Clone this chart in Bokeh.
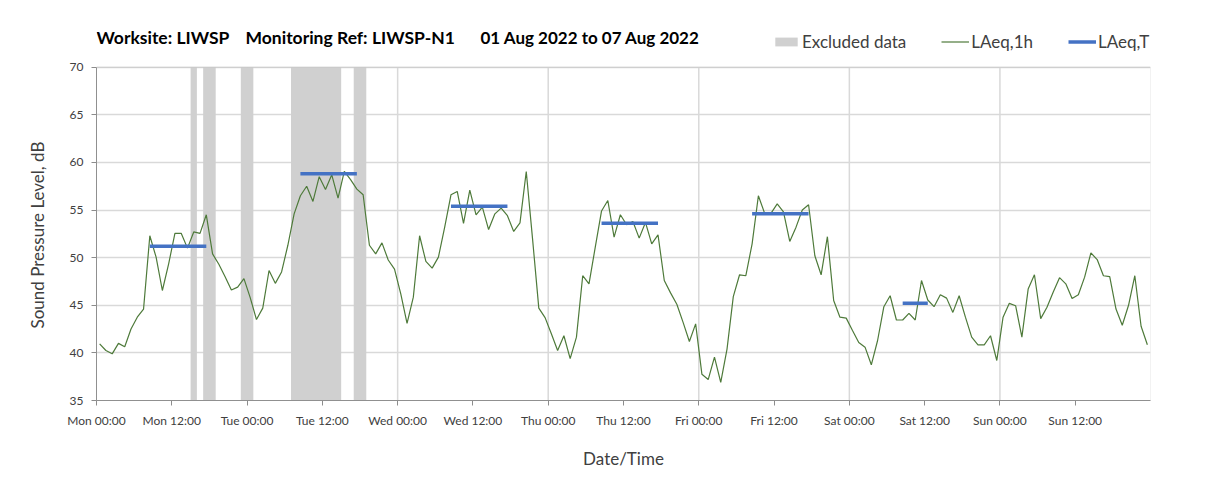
from bokeh.plotting import figure
from bokeh.models import (FixedTicker, Range1d, Legend, LegendItem, ColumnDataSource,
                          Label, BoxAnnotation, Title)
from bokeh.embed import file_html
from bokeh.resources import INLINE

# ---- data ----
hours = list(range(168))
laeq_1h = [
    40.95, 40.25, 39.9, 41.0, 40.65, 42.5, 43.75, 44.6, 52.3, 50.05, 46.55, 49.35,
    52.55, 52.55, 51.0, 52.7, 52.55, 54.5, 50.4, 49.3, 48.0, 46.6, 46.9, 47.8,
    45.8, 43.5, 44.7, 48.65, 47.3, 48.5, 51.3, 54.6, 56.5, 57.5, 55.9, 58.5,
    57.15, 58.7, 56.25, 59.05, 58.2, 57.2, 56.6, 51.3, 50.4, 51.55, 49.75, 48.8,
    46.2, 43.1, 45.85, 52.3, 49.6, 48.9, 50.05, 53.2, 56.6, 56.95, 53.6, 57.1,
    54.5, 55.3, 52.95, 54.6, 55.2, 54.4, 52.75, 53.65, 59.05, 52.0, 44.7, 43.7,
    42.0, 40.25, 41.8, 39.4, 41.65, 48.1, 47.25, 51.1, 54.9, 56.0, 52.15, 54.5,
    53.45, 53.8, 52.05, 53.7, 51.45, 52.4, 47.6, 46.3, 45.1, 43.2, 41.2, 43.05,
    37.75, 37.2, 39.55, 36.9, 40.4, 45.9, 48.2, 48.1, 51.45, 56.5, 54.65, 54.65,
    55.65, 54.8, 51.7, 53.2, 55.0, 55.55, 50.2, 48.2, 52.2, 45.5, 43.75, 43.65,
    42.35, 41.1, 40.6, 38.75, 41.3, 44.85, 46.0, 43.45, 43.45, 44.15, 43.45, 47.6,
    45.55, 44.85, 46.1, 45.75, 44.25, 46.0, 43.75, 41.65, 40.85, 40.85, 41.8, 39.2,
    43.75, 45.2, 44.95, 41.65, 46.7, 48.2, 43.6, 44.8, 46.4, 47.9, 47.25, 45.7,
    46.1, 47.95, 50.5, 49.8, 48.1, 48.0, 44.6, 42.9, 45.0, 48.1, 42.8, 40.85,
]
excl_start = [15, 17, 23, 31, 41]
excl_end = [16, 19, 25, 39, 43]
t_start = [8.5, 32.5, 56.5, 80.5, 104.5, 128.5]
t_end = [17.5, 41.5, 65.5, 89.5, 113.5, 132.5]
laeq_t = [51.2, 58.8, 55.4, 53.6, 54.6, 45.2]
tick_hours = [0, 12, 24, 36, 48, 60, 72, 84, 96, 108, 120, 132, 144, 156]
tick_labels = ["Mon 00:00", "Mon 12:00", "Tue 00:00", "Tue 12:00", "Wed 00:00",
               "Wed 12:00", "Thu 00:00", "Thu 12:00", "Fri 00:00", "Fri 12:00",
               "Sat 00:00", "Sat 12:00", "Sun 00:00", "Sun 12:00"]
day_bounds = [24, 48, 72, 96, 120, 144]
y_ticks = [35, 40, 45, 50, 55, 60, 65, 70]
y_min, y_max = 35, 70
x_min, x_max = 0, 168
title_parts = ["Worksite: LIWSP", "Monitoring Ref: LIWSP-N1", "01 Aug 2022 to 07 Aug 2022"]
y_title = "Sound Pressure Level, dB"
x_title = "Date/Time"

FONT = "Lato"
TXT = "#404040"
GRID = "#d9d9d9"

# frame covers the header strip too (title + legend live above y_max)
y_top = y_max + 7.0
p = figure(width=1192, height=476, output_backend="svg", toolbar_location=None,
           min_border_left=96, min_border_right=42, min_border_top=0, min_border_bottom=76,
           x_range=Range1d(x_min, x_max), y_range=Range1d(y_min, y_top))
p.background_fill_color = "white"
p.border_fill_color = "white"
p.outline_line_color = None

# vertical day grid lines (limited to the plot area)
src_g = ColumnDataSource(dict(x=day_bounds, y0=[y_min] * len(day_bounds), y1=[y_max] * len(day_bounds)))
p.segment(x0="x", y0="y0", x1="x", y1="y1", source=src_g, line_color=GRID, line_width=1.5)

# excluded data bands
src_ex = ColumnDataSource(dict(left=excl_start, right=excl_end,
                               bottom=[y_min] * len(excl_start), top=[y_max] * len(excl_start)))
r_ex = p.quad(left="left", right="right", bottom="bottom", top="top", source=src_ex,
              fill_color="#d0d0d0", line_color=None)

# hourly line
src_l = ColumnDataSource(dict(x=[h + 0.5 for h in hours], y=laeq_1h))
r_l = p.line("x", "y", source=src_l, line_color="#4e7a3a", line_width=1.2)

# LAeq,T segments
src_t = ColumnDataSource(dict(x0=t_start, x1=t_end, y=laeq_t))
r_t = p.segment(x0="x0", y0="y", x1="x1", y1="y", source=src_t,
                line_color="#4472C4", line_width=3.5)

# plot-area border
p.add_layout(BoxAnnotation(left=x_min, right=x_max, bottom=y_min, top=y_max,
                           fill_alpha=0, line_color="#a6a6a6", line_width=1))

# axes
p.xaxis.ticker = FixedTicker(ticks=tick_hours)
p.xaxis.major_label_overrides = {h: l for h, l in zip(tick_hours, tick_labels)}
p.yaxis.ticker = FixedTicker(ticks=y_ticks)
p.yaxis.bounds = (y_min, y_max)
p.xgrid.visible = False
p.ygrid.ticker = FixedTicker(ticks=y_ticks)
p.ygrid.grid_line_color = GRID
p.ygrid.grid_line_width = 1.5

for ax in (p.xaxis, p.yaxis):
    ax.axis_line_color = "#8c8c8c"
    ax.major_tick_line_color = "#8c8c8c"
    ax.minor_tick_line_color = None
    ax.major_tick_in = 0
    ax.major_tick_out = 5
    ax.major_label_text_font = FONT
    ax.major_label_text_font_size = "12px"
    ax.major_label_text_color = TXT
    ax.axis_label_text_font = FONT
    ax.axis_label_text_font_size = "17px"
    ax.axis_label_text_font_style = "normal"
    ax.axis_label_text_color = TXT

p.xaxis.axis_label = x_title
p.xaxis.major_label_standoff = 7
p.yaxis.major_label_standoff = 8
p.xaxis.axis_label_standoff = 17

# y-axis title, centred on the plot area (not the header strip)
p.add_layout(Title(text=y_title, align="left", offset=72, vertical_align="middle",
                   text_font=FONT, text_font_size="17px", text_font_style="normal",
                   text_color=TXT, standoff=36), "left")

# title pieces
for xpos, txt, fs in zip([0, 149, 384], title_parts, ["17.5px", "17.5px", "17px"]):
    p.add_layout(Label(x=xpos, y=363, x_units="screen", y_units="screen", text=txt,
                       text_font=FONT, text_font_size=fs, text_font_style="bold",
                       text_color="#000000", text_baseline="middle", text_align="left"))

legend = Legend(items=[LegendItem(label="Excluded data", renderers=[r_ex]),
                       LegendItem(label="LAeq,1h", renderers=[r_l]),
                       LegendItem(label="LAeq,T", renderers=[r_t])],
                orientation="horizontal", location=(676, 348))
legend.padding = 0
legend.margin = 0
legend.spacing = 35
legend.border_line_color = None
legend.background_fill_alpha = 0
legend.glyph_width = 28
legend.glyph_height = 11
legend.label_height = 14
legend.label_standoff = 2
legend.label_text_font = FONT
legend.label_text_font_size = "17px"
legend.label_text_color = TXT
p.add_layout(legend, "center")

open("out.html", "w").write(file_html(p, INLINE))
